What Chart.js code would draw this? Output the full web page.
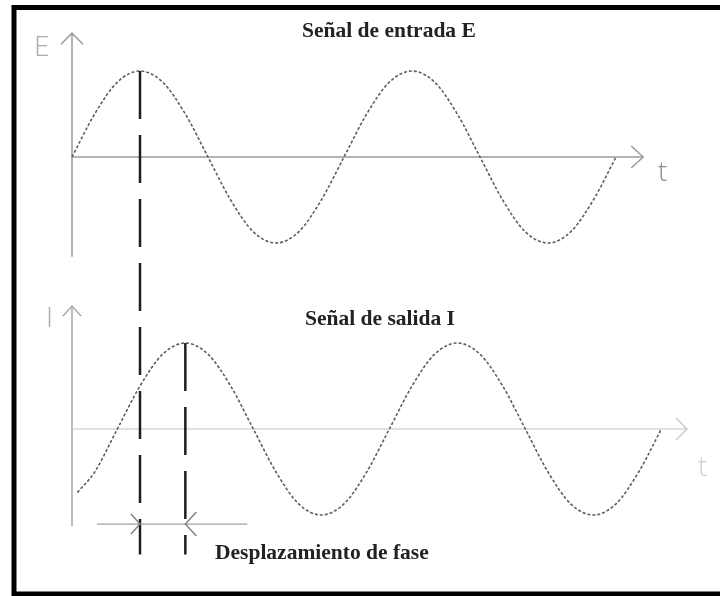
<!DOCTYPE html>
<html lang="es">
<head>
    <meta charset="UTF-8">
    <title>Desplazamiento de fase</title>
    <script src="https://cdn.jsdelivr.net/npm/chart.js"></script>
    <style>
        body {
            margin: 0;
            background-color: #ffffff;
        }
        #phaseChart {
            display: block;
        }
    </style>
</head>
<body>
    <canvas id="phaseChart" width="720" height="596"></canvas>

    <script>
        // Input signal E: phase angle (degrees) and normalised amplitude
        const phaseE = [0, 30, 60, 90, 120, 150, 180, 210, 240, 270, 300, 330, 360,
                        390, 420, 450, 480, 510, 540, 570, 600, 630, 660, 690, 720];
        const valuesE = [0, 0.5, 0.87, 1, 0.87, 0.5, 0, -0.5, -0.87, -1, -0.87, -0.5, 0,
                         0.5, 0.87, 1, 0.87, 0.5, 0, -0.5, -0.87, -1, -0.87, -0.5, 0];

        // Output signal I, lagging behind E
        const phaseI = [7, 30, 60, 90, 120, 150, 180, 210, 240, 270, 300, 330, 360, 390,
                        420, 450, 480, 510, 540, 570, 600, 630, 660, 690, 720, 750, 780];
        const valuesI = [-0.74, -0.5, 0, 0.5, 0.87, 1, 0.87, 0.5, 0, -0.5, -0.87, -1, -0.87, -0.5,
                         0, 0.5, 0.87, 1, 0.87, 0.5, 0, -0.5, -0.87, -1, -0.87, -0.5, 0];

        // Peaks used to show the phase shift
        const peakE = 90;
        const peakI = 150;

        // Layout of the drawing (pixels)
        const W = 720, H = 596;
        const ORIGIN_X = 72;             // where phase 0 sits
        const PX_PER_DEG = 272 / 360;    // one period is 272 px wide
        const ZERO_E = 157, ZERO_I = 429;
        const AMP_PX = 86;

        // Axis extents in data units
        const axisE = { vMin: -1.16, vMax: 1.44, tMax: 756 };
        const axisI = { vMin: -1.13, vMax: 1.43, tMax: 814 };
        const markBottom = -1.46;        // lower end of the dashed lines (I units)
        const measure = { v: -1.105, from: 33, to: 232 };

        function arrowLine(ctx, x0, y0, x1, y1, len, half) {
            const d = Math.hypot(x1 - x0, y1 - y0);
            const ux = (x1 - x0) / d, uy = (y1 - y0) / d;
            ctx.beginPath();
            ctx.moveTo(x0, y0);
            ctx.lineTo(x1, y1);
            ctx.stroke();
            chevron(ctx, x1, y1, ux, uy, len, half);
        }

        function chevron(ctx, tx, ty, ux, uy, len, half) {
            ctx.beginPath();
            ctx.moveTo(tx - ux * len - uy * half, ty - uy * len + ux * half);
            ctx.lineTo(tx, ty);
            ctx.lineTo(tx - ux * len + uy * half, ty - uy * len - ux * half);
            ctx.stroke();
        }

        const diagram = {
            id: 'diagram',
            beforeDatasetsDraw(chart) {
                const ctx = chart.ctx;
                const x = chart.scales.x, yE = chart.scales.yE, yI = chart.scales.yI;
                const x0 = x.getPixelForValue(0);
                ctx.save();

                // axes with open arrow heads
                ctx.lineWidth = 1.5;
                ctx.strokeStyle = '#9a9a9a';
                arrowLine(ctx, x0, yE.getPixelForValue(axisE.vMin), x0, yE.getPixelForValue(axisE.vMax), 11, 11);
                arrowLine(ctx, x0, yE.getPixelForValue(0), x.getPixelForValue(axisE.tMax), yE.getPixelForValue(0), 12, 11);
                ctx.strokeStyle = '#a8a8a8';
                arrowLine(ctx, x0, yI.getPixelForValue(axisI.vMin), x0, yI.getPixelForValue(axisI.vMax), 10, 9);
                ctx.lineWidth = 1.2;
                ctx.strokeStyle = '#c4c4c4';
                arrowLine(ctx, x0, yI.getPixelForValue(0), x.getPixelForValue(axisI.tMax), yI.getPixelForValue(0), 11, 11);

                // axis letters
                ctx.font = '300 28px "Open Sans", "DejaVu Sans", sans-serif';
                ctx.textAlign = 'left';
                ctx.textBaseline = 'alphabetic';
                ctx.fillStyle = '#aaaaaa';
                ctx.fillText('E', 34, 56);
                ctx.fillText('I', 46, 327);
                ctx.fillStyle = '#8c8c8c';
                ctx.fillText('t', 658, 181);
                ctx.fillStyle = '#d0d0d0';
                ctx.fillText('t', 698, 476);

                ctx.restore();
            },
            afterDatasetsDraw(chart) {
                const ctx = chart.ctx;
                const x = chart.scales.x, yE = chart.scales.yE, yI = chart.scales.yI;
                ctx.save();

                // dashed markers dropped from each peak
                const bottom = yI.getPixelForValue(markBottom);
                ctx.strokeStyle = '#1e1e1e';
                ctx.lineWidth = 2.5;
                ctx.setLineDash([48, 16]);
                [[peakE, yE], [peakI, yI]].forEach(([p, scale]) => {
                    const px = x.getPixelForValue(p);
                    ctx.beginPath();
                    ctx.moveTo(px, scale.getPixelForValue(1));
                    ctx.lineTo(px, bottom);
                    ctx.stroke();
                });
                ctx.setLineDash([]);

                // phase shift dimension line
                const my = yI.getPixelForValue(measure.v);
                ctx.strokeStyle = '#a0a0a0';
                ctx.lineWidth = 1.3;
                ctx.beginPath();
                ctx.moveTo(x.getPixelForValue(measure.from), my);
                ctx.lineTo(x.getPixelForValue(measure.to), my);
                ctx.stroke();
                ctx.strokeStyle = '#7a7a7a';
                chevron(ctx, x.getPixelForValue(peakE), my, 1, 0, 9, 10);
                chevron(ctx, x.getPixelForValue(peakI), my, -1, 0, 11, 12);

                // titles
                ctx.fillStyle = '#222222';
                ctx.font = 'bold 21.5px "Liberation Serif", "DejaVu Serif", serif';
                ctx.textAlign = 'left';
                ctx.fillText('Señal de entrada E', 302, 37);
                ctx.fillText('Señal de salida I', 305, 325);
                ctx.fillText('Desplazamiento de fase', 215, 559);

                // frame
                ctx.strokeStyle = '#000000';
                ctx.lineWidth = 5;
                ctx.strokeRect(14, 7.5, W, 586.5);

                ctx.restore();
            }
        };

        const toPoints = (xs, ys) => xs.map((p, i) => ({ x: p, y: ys[i] }));

        const waveStyle = {
            borderColor: '#5e5e5e',
            borderWidth: 1.6,
            borderDash: [3, 2],
            cubicInterpolationMode: 'monotone',
            pointRadius: 0,
            fill: false,
            clip: false
        };

        new Chart(document.getElementById('phaseChart'), {
            type: 'line',
            data: {
                datasets: [
                    { label: 'Señal de entrada E', data: toPoints(phaseE, valuesE), yAxisID: 'yE', ...waveStyle },
                    { label: 'Señal de salida I', data: toPoints(phaseI, valuesI), yAxisID: 'yI', ...waveStyle }
                ]
            },
            options: {
                responsive: false,
                animation: false,
                layout: { padding: 0 },
                plugins: {
                    legend: { display: false },
                    tooltip: { enabled: false }
                },
                scales: {
                    x: {
                        type: 'linear',
                        display: false,
                        min: -ORIGIN_X / PX_PER_DEG,
                        max: (W - ORIGIN_X) / PX_PER_DEG
                    },
                    yE: {
                        type: 'linear',
                        display: false,
                        min: -(H - ZERO_E) / AMP_PX,
                        max: ZERO_E / AMP_PX
                    },
                    yI: {
                        type: 'linear',
                        display: false,
                        min: -(H - ZERO_I) / AMP_PX,
                        max: ZERO_I / AMP_PX
                    }
                }
            },
            plugins: [diagram]
        });
    </script>
</body>
</html>
